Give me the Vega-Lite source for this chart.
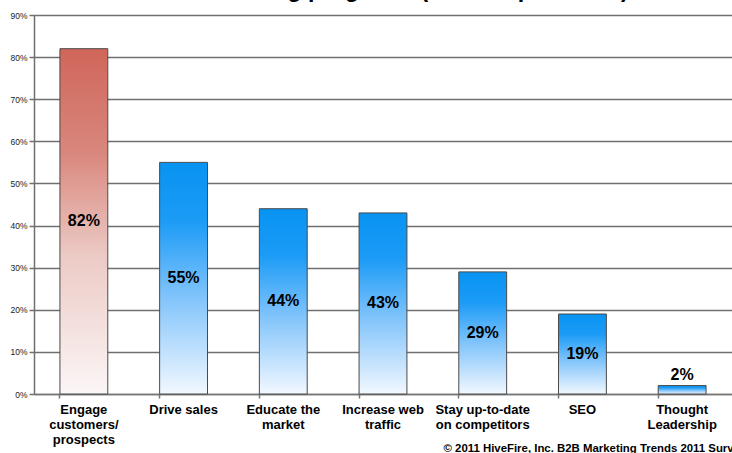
{
  "$schema": "https://vega.github.io/schema/vega-lite/v6.json",
  "autosize": {"type": "none"},
  "width": 698,
  "height": 379,
  "padding": {"left": 34, "top": 15, "right": 0, "bottom": 59},
  "background": "white",
  "title": {
    "text": "Goals of content marketing programs (% of respondents)",
    "anchor": "end",
    "dx": -117,
    "dy": 9,
    "offset": 0,
    "baseline": "alphabetic",
    "font": "Liberation Sans",
    "fontSize": 23,
    "fontWeight": "bold",
    "color": "#000000"
  },
  "data": {
    "values": [
      {"goal": "Engage\ncustomers/\nprospects", "share": 0.82},
      {"goal": "Drive sales", "share": 0.55},
      {"goal": "Educate the\nmarket", "share": 0.44},
      {"goal": "Increase web\ntraffic", "share": 0.43},
      {"goal": "Stay up-to-date\non competitors", "share": 0.29},
      {"goal": "SEO", "share": 0.19},
      {"goal": "Thought\nLeadership", "share": 0.02}
    ]
  },
  "config": {
    "view": {"stroke": null},
    "font": "Liberation Sans"
  },
  "encoding": {
    "x": {
      "field": "goal",
      "type": "nominal",
      "sort": null,
      "scale": {"paddingInner": 0.52, "paddingOuter": 0.26},
      "axis": {
        "labelExpr": "split(datum.value, '\\n')",
        "labelAngle": 0,
        "labelFont": "Liberation Sans",
        "labelFontSize": 13,
        "labelFontWeight": "bold",
        "labelColor": "#000000",
        "labelLineHeight": 15,
        "labelPadding": 5,
        "labelBaseline": "top",
        "bandPosition": 0,
        "tickSize": 4,
        "tickColor": "#777777",
        "tickWidth": 1.5,
        "domainColor": "#777777",
        "domainWidth": 1.5,
        "title": "© 2011 HiveFire, Inc. B2B Marketing Trends 2011 Survey",
        "titleAnchor": "start",
        "titleAlign": "left",
        "titleX": 409,
        "titleY": 57,
        "titleBaseline": "alphabetic",
        "titleFont": "Liberation Sans",
        "titleFontSize": 11.4,
        "titleFontWeight": "bold",
        "titleColor": "#000000"
      }
    }
  },
  "layer": [
    {
      "mark": {"type": "bar", "stroke": "#4a4a4a", "strokeWidth": 1},
      "encoding": {
        "y": {
          "field": "share",
          "type": "quantitative",
          "scale": {"domain": [0, 0.9], "nice": false},
          "axis": {
            "format": ".0%",
            "values": [0, 0.1, 0.2, 0.3, 0.4, 0.5, 0.6, 0.7, 0.8, 0.9],
            "title": null,
            "labelFont": "Liberation Sans",
            "labelFontSize": 8.5,
            "labelColor": "#222222",
            "labelPadding": 2,
            "tickSize": 5,
            "tickColor": "#6f6f6f",
            "tickWidth": 1.5,
            "domainColor": "#6f6f6f",
            "domainWidth": 1.5,
            "grid": true,
            "gridColor": "#6f6f6f",
            "gridWidth": 1.3
          }
        },
        "color": {
          "condition": {
            "test": "datum.share > 0.8",
            "value": {
              "gradient": "linear",
              "x1": 0, "y1": 0, "x2": 0, "y2": 1,
              "stops": [
                {"offset": 0, "color": "#d0665a"},
                {"offset": 0.3, "color": "#d9877d"},
                {"offset": 0.6, "color": "#eccac5"},
                {"offset": 1, "color": "#fbf6f6"}
              ]
            }
          },
          "value": {
            "gradient": "linear",
            "x1": 0, "y1": 0, "x2": 0, "y2": 1,
            "stops": [
              {"offset": 0, "color": "#0893f2"},
              {"offset": 0.25, "color": "#1b9bf6"},
              {"offset": 0.6, "color": "#86c6fb"},
              {"offset": 1, "color": "#f2f8ff"}
            ]
          }
        }
      }
    },
    {
      "transform": [
        {"filter": "datum.share >= 0.1"},
        {"calculate": "datum.share / 2", "as": "mid"}
      ],
      "mark": {"type": "text", "font": "Liberation Sans", "fontSize": 16, "fontWeight": "bold", "color": "#000000", "baseline": "middle"},
      "encoding": {
        "y": {"field": "mid", "type": "quantitative"},
        "text": {"field": "share", "type": "quantitative", "format": ".0%"}
      }
    },
    {
      "transform": [{"filter": "datum.share < 0.1"}],
      "mark": {"type": "text", "font": "Liberation Sans", "fontSize": 16, "fontWeight": "bold", "color": "#000000", "baseline": "bottom", "dy": -3},
      "encoding": {
        "y": {"field": "share", "type": "quantitative"},
        "text": {"field": "share", "type": "quantitative", "format": ".0%"}
      }
    }
  ]
}
